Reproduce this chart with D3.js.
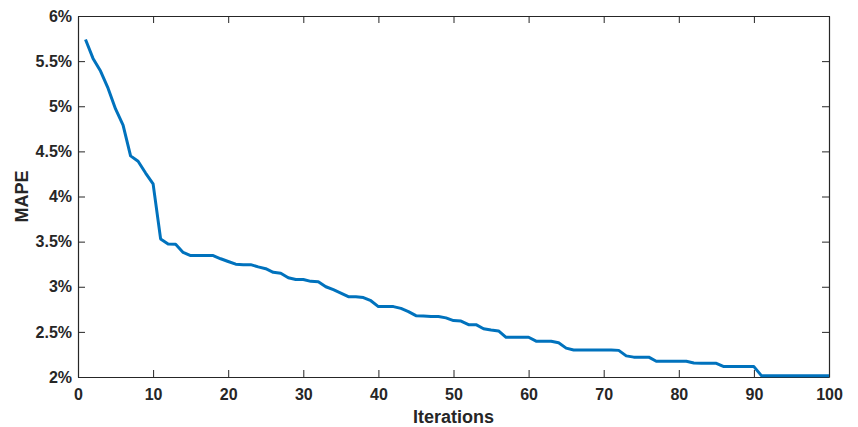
<!DOCTYPE html>
<html>
<head>
<meta charset="utf-8">
<script src="https://cdn.jsdelivr.net/npm/d3@7"></script>
<style>
  body { margin: 0; background: #fff; }
  text { font-family: "Liberation Sans", Arial, sans-serif; font-weight: bold; fill: #262626; }
</style>
</head>
<body>
<div id="chart"></div>
<script>
// iteration number and MAPE (%)
var iterations = d3.range(1, 101);
var mape = [
  5.74, 5.53, 5.39, 5.20, 4.97, 4.79, 4.45, 4.39, 4.26, 4.14,
  3.53, 3.475, 3.47, 3.38, 3.345, 3.345, 3.345, 3.345, 3.31, 3.28,
  3.25, 3.245, 3.245, 3.22, 3.20, 3.16, 3.15, 3.10, 3.08, 3.08,
  3.06, 3.055, 3.00, 2.967, 2.93, 2.89, 2.89, 2.88, 2.845, 2.78,
  2.78, 2.78, 2.76, 2.725, 2.68, 2.675, 2.67, 2.67, 2.655, 2.625,
  2.62, 2.58, 2.58, 2.535, 2.52, 2.51, 2.44, 2.44, 2.44, 2.44,
  2.397, 2.397, 2.397, 2.38, 2.32, 2.30, 2.30, 2.30, 2.30, 2.30,
  2.30, 2.295, 2.234, 2.22, 2.22, 2.22, 2.174, 2.174, 2.174, 2.174,
  2.174, 2.156, 2.152, 2.152, 2.152, 2.115, 2.115, 2.115, 2.115, 2.115,
  2.015, 2.015, 2.015, 2.015, 2.015, 2.015, 2.015, 2.015, 2.015, 2.015
];
var xTicks = [0, 10, 20, 30, 40, 50, 60, 70, 80, 90, 100];
var yTicks = [2, 2.5, 3, 3.5, 4, 4.5, 5, 5.5, 6];

var width = 858, height = 427;
var margin = {left: 78, right: 29, top: 16, bottom: 50};
var innerW = width - margin.left - margin.right;
var innerH = height - margin.top - margin.bottom;

var svg = d3.select("#chart").append("svg")
    .attr("width", width)
    .attr("height", height);

var g = svg.append("g").attr("transform", "translate(" + margin.left + "," + margin.top + ")");

var x = d3.scaleLinear().domain([0, 100]).range([0, innerW]);
var y = d3.scaleLinear().domain([2, 6]).range([innerH, 0]);

var fmtPct = function(d){ return d + "%"; };

// bottom and left with labels, top and right ticks only
var xAxis = g.append("g").attr("transform", "translate(0," + innerH + ")")
    .call(d3.axisBottom(x).tickValues(xTicks).tickSizeInner(-7).tickSizeOuter(0).tickPadding(12));
var xTop = g.append("g")
    .call(d3.axisTop(x).tickValues(xTicks).tickSizeInner(-7).tickSizeOuter(0).tickFormat(""));
var yAxis = g.append("g")
    .call(d3.axisLeft(y).tickValues(yTicks).tickSizeInner(-7).tickSizeOuter(0).tickPadding(6).tickFormat(fmtPct));
var yRight = g.append("g").attr("transform", "translate(" + innerW + ",0)")
    .call(d3.axisRight(y).tickValues(yTicks).tickSizeInner(-7).tickSizeOuter(0).tickFormat(""));

[xAxis, xTop, yAxis, yRight].forEach(function(a){
  a.select(".domain").attr("stroke", "#262626").attr("stroke-width", 1.2);
  a.selectAll(".tick line").attr("stroke", "#262626");
  a.selectAll("text").style("font-size", "16px").style("font-family", "'Liberation Sans', Arial, sans-serif").style("font-weight", "bold").attr("fill", "#262626");
});

var line = d3.line()
    .x(function(d, i){ return x(iterations[i]); })
    .y(function(d){ return y(d); });

g.append("path")
    .datum(mape)
    .attr("fill", "none")
    .attr("stroke", "#0072BD")
    .attr("stroke-width", 3)
    .attr("stroke-linejoin", "round")
    .attr("d", line);

svg.append("text")
    .attr("x", margin.left + innerW / 2)
    .attr("y", 423)
    .attr("text-anchor", "middle")
    .style("font-size", "18px")
    .text("Iterations");

svg.append("text")
    .attr("transform", "translate(28," + (margin.top + innerH / 2) + ") rotate(-90)")
    .attr("text-anchor", "middle")
    .style("font-size", "18px")
    .text("MAPE");
</script>
</body>
</html>
